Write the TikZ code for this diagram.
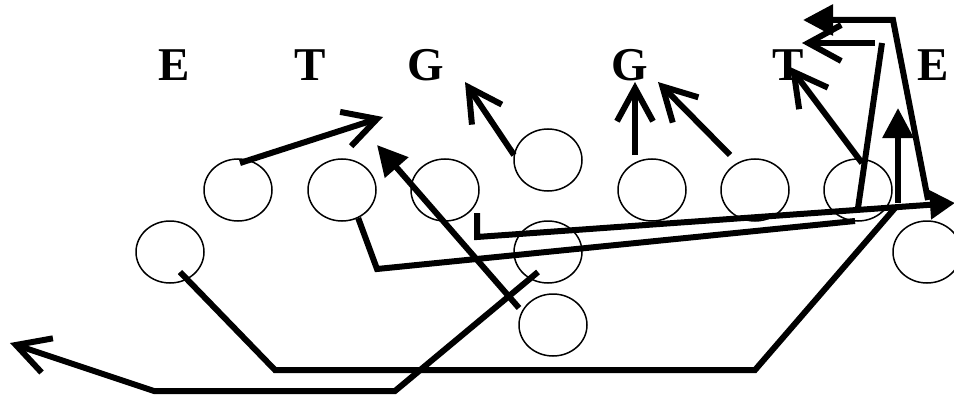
\documentclass[tikz,border=0pt]{standalone}
\usepackage{fontspec}
\setmainfont{Liberation Serif}
\usetikzlibrary{arrows.meta,shapes.geometric}
\begin{document}
\begin{tikzpicture}[x=1pt,y=-1pt,
  player/.style={draw,ellipse,line width=1.5pt,minimum width=68pt,minimum height=62pt,inner sep=0pt},
  man/.style={font=\bfseries\fontsize{47}{50}\selectfont,inner sep=0pt,anchor=base},
  route/.style={line width=6pt},
  open/.style={route,-{Straight Barb[length=33pt,width=36pt]}},
  block/.style={route,-{Triangle[length=30pt,width=30pt]}}]
\useasboundingbox (0,0) rectangle (954,396);
\clip (0,0) rectangle (954,396);

\node[man] (e1) at (174,81) {E};
\node[man] (t1) at (310,81) {T};
\node[man] (g1) at (426,81) {G};
\node[man] (g2) at (630,81) {G};
\node[man] (t2) at (788,81) {T};
\node[man] (e2) at (933,81) {E};

\node[player] (l1) at (238,190) {};
\node[player] (l2) at (342,190) {};
\node[player] (l3) at (445,190) {};
\node[player] (c) at (548,160) {};
\node[player] (r3) at (652,190) {};
\node[player] (r2) at (755,190) {};
\node[player] (r1) at (858,190) {};
\node[player] (wl) at (170,252) {};
\node[player] (hb) at (548,252) {};
\node[player] (wr) at (927,252) {};
\node[player] (qb) at (553,325) {};

\coordinate (k1) at (383,117);
\coordinate (k2) at (377,145);
\coordinate (k3) at (465,82);
\coordinate (k4) at (635,82);
\coordinate (k5) at (658,82);
\coordinate (k6) at (790,67);
\coordinate (k7) at (802,43);
\coordinate (k8) at (882,43);
\coordinate (k9) at (955,203);
\coordinate (k10) at (898,108);
\coordinate (k11) at (803,20);
\coordinate (k12) at (10,343);

\draw[open] ([shift={(2,-27)}]l1.center) -- (k1);
\draw[block] ([shift={(-34,-17)}]qb.center) -- (k2);
\draw[open] ([shift={(-34,-5)}]c.center) -- (k3);
\draw[open] ([shift={(-17,-35)}]r3.center) -- (k4);
\draw[open] ([shift={(-25,-35)}]r2.center) -- (k5);
\draw[open] ([shift={(4,-27)}]r1.center) -- (k6);

\draw[route] ([shift={(0,18)}]r1.center) -- (k8);
\draw[open] ([shift={(-7,0)}]k8) -- (k7);
\draw[route,-{Triangle[length=25pt,width=28pt]}] ([shift={(32,23)}]l3.center) -- ++(0,24) -- (k9);
\draw[route] (l2.-60) -- (377,269) -- ([shift={(-3,31)}]r1.center);
\draw[route] ([shift={(10,20)}]wl.center) -- (275,370) -- (755,370) -- ([shift={(37,18)}]r1.center);
\draw[block] ([shift={(40,13)}]r1.center) -- (k10);
\draw[block] ([shift={(1,-52)}]wr.center) -- (893,20) -- (k11);
\draw[open] ([shift={(-10,20)}]hb.center) -- (395,391) -- (154,391) -- (k12);

\end{tikzpicture}
\end{document}
